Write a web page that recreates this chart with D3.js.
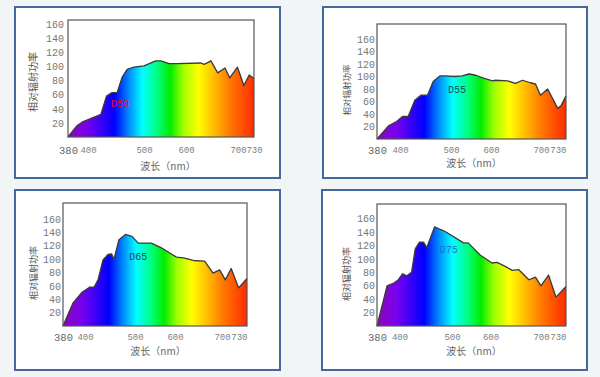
<!DOCTYPE html>
<html>
<head>
<meta charset="utf-8">
<script src="https://cdn.jsdelivr.net/npm/d3@7"></script>
<style>
  body { margin: 0; background: #f1f5f6; }
  svg { display: block; }
</style>
</head>
<body>
<svg id="chart" width="600" height="377"></svg>
<script>
// tick labels
const xTicks = [380, 400, 500, 600, 700, 730];
const yTicks = [20, 40, 60, 80, 100, 120, 140, 160];

// D50
const d50Nm = [380, 389, 394, 423, 433, 443, 452, 461, 470, 482, 500, 528, 540, 560, 579, 629, 635, 648, 661, 675, 684, 699, 711, 721, 730];
const d50Power = [0, 16, 21, 32, 58, 63, 63, 85, 96, 99, 101, 108, 108, 104, 104, 105, 103, 108, 91, 98, 84, 99, 73, 88, 83];

// D55
const d55Nm = [380, 390, 397, 405, 416, 429, 441, 454, 465, 478, 490, 508, 528, 545, 562, 583, 603, 609, 633, 649, 663, 679, 689, 699, 708, 720, 724, 730];
const d55Power = [0, 21, 28, 36, 36, 62, 70, 70, 92, 101, 101, 100, 101, 104, 102, 97, 93, 94, 93, 89, 94, 90, 88, 70, 80, 49, 53, 69];

// D65
const d65Nm = [380, 389, 397, 409, 418, 426, 436, 446, 453, 458, 468, 481, 494, 508, 541, 566, 603, 618, 639, 663, 681, 695, 704, 711, 720, 730];
const d65Power = [0, 34, 50, 58, 58, 69, 99, 107, 108, 100, 129, 137, 134, 124, 124, 117, 103, 102, 98, 97, 79, 84, 69, 86, 57, 71];

// D75
const d75Nm = [380, 389, 395, 399, 406, 414, 423, 430, 438, 446, 452, 467, 478, 487, 530, 542, 573, 603, 613, 629, 643, 656, 676, 689, 700, 709, 718, 730];
const d75Power = [0, 60, 64, 69, 78, 75, 80, 115, 125, 125, 117, 148, 144, 141, 124, 124, 106, 94, 95, 89, 83, 84, 69, 73, 60, 76, 43, 59];

// layout of the four panels (the tick labels in the source are hand placed, so x is piecewise)
const panels = [
  { name: 'D50', nm: d50Nm, power: d50Power,
    frame: [15, 7, 265, 171], plot: [68, 20, 254, 137],
    xRange: [68, 88, 144, 186, 238, 254], yMax: 166,
    xPad: 10, yPad: 4, endAnchor: 'middle',
    label: { at: [457, 42], color: '#e0101a' },
    yTitle: [33, 82, 10], xTitle: [168, 170] },
  { name: 'D55', nm: d55Nm, power: d55Power,
    frame: [323, 7, 264, 171], plot: [377, 24, 566, 139],
    xRange: [377, 400, 451, 491, 541, 566], yMax: 184,
    xPad: 8, yPad: 2, endAnchor: 'end',
    label: { at: [515, 73], color: '#124f5c' },
    yTitle: [347, 90, 8.5], xTitle: [474, 167] },
  { name: 'D65', nm: d65Nm, power: d65Power,
    frame: [15, 190, 265, 180], plot: [63, 203, 247, 326],
    xRange: [63, 85, 135, 175, 222, 247], yMax: 184,
    xPad: 8, yPad: 2, endAnchor: 'end',
    label: { at: [508, 98], color: '#1d4a57' },
    yTitle: [34, 273, 9], xTitle: [158, 355] },
  { name: 'D75', nm: d75Nm, power: d75Power,
    frame: [322, 190, 265, 180], plot: [377, 204, 566, 326],
    xRange: [377, 399.5, 452, 490.5, 541, 566], yMax: 182,
    xPad: 8, yPad: 2, endAnchor: 'end',
    label: { at: [494, 109], color: '#1f6fd6' },
    yTitle: [347, 274, 9], xTitle: [474, 355] }
];

const svg = d3.select('#chart');

const defs = svg.append('defs');
const grad = defs.append('linearGradient')
  .attr('id', 'rainbow')
  .attr('x1', 0).attr('x2', 1).attr('y1', 0).attr('y2', 0);
const stops = [
  [0, '#8c08b8'], [0.1, '#7a00ee'], [0.25, '#0000ff'], [0.33, '#0090ff'],
  [0.4, '#00ffff'], [0.48, '#00ff80'], [0.55, '#00ec00'], [0.62, '#a0ff00'],
  [0.7, '#ffff00'], [0.78, '#ffc000'], [0.86, '#ff8000'], [1, '#ff2a00']
];
grad.selectAll('stop')
  .data(stops)
  .enter().append('stop')
  .attr('offset', d => d[0])
  .attr('stop-color', d => d[1]);

const mono = '"Liberation Mono", "DejaVu Sans Mono", monospace';
const cjk = '"Noto Sans CJK SC", sans-serif';

panels.forEach(p => {
  const [px0, py0, px1, py1] = p.plot;

  // outer frame
  svg.append('rect')
    .attr('x', p.frame[0]).attr('y', p.frame[1])
    .attr('width', p.frame[2]).attr('height', p.frame[3])
    .attr('fill', '#fff')
    .attr('stroke', '#44689d')
    .attr('stroke-width', 2);

  const x = d3.scaleLinear().domain(xTicks).range(p.xRange);
  const y = d3.scaleLinear().domain([0, p.yMax]).range([py1, py0]);

  const data = p.nm.map((d, i) => ({ nm: d, v: p.power[i] }));

  const g = svg.append('g');

  g.append('rect')
    .attr('x', px0).attr('y', py0)
    .attr('width', px1 - px0).attr('height', py1 - py0)
    .attr('fill', '#fff');

  g.append('path')
    .datum(data)
    .attr('fill', 'url(#rainbow)')
    .attr('d', d3.area().x(d => x(d.nm)).y0(py1).y1(d => y(d.v)));

  g.append('path')
    .datum(data)
    .attr('fill', 'none')
    .attr('stroke', '#3a3a3a')
    .attr('stroke-width', 1.3)
    .attr('stroke-linejoin', 'round')
    .attr('d', d3.line().x(d => x(d.nm)).y(d => y(d.v)));

  g.append('rect')
    .attr('x', px0).attr('y', py0)
    .attr('width', px1 - px0).attr('height', py1 - py0)
    .attr('fill', 'none')
    .attr('stroke', '#555')
    .attr('stroke-width', 1.2);

  // x axis
  const xAxis = g.append('g')
    .attr('transform', 'translate(0,' + py1 + ')')
    .call(d3.axisBottom(x).tickValues(xTicks).tickSize(0).tickPadding(p.xPad));
  xAxis.select('.domain').remove();
  xAxis.selectAll('text')
    .attr('font-family', mono)
    .attr('font-size', d => d === 380 ? 10.5 : 9)
    .attr('dy', d => d === 380 ? '0.62em' : '0.71em')
    .attr('fill', d => d === 380 ? '#666' : '#808080')
    .attr('text-anchor', d => d === 730 ? p.endAnchor : 'middle');

  // y axis
  const yAxis = g.append('g')
    .attr('transform', 'translate(' + px0 + ',0)')
    .call(d3.axisLeft(y).tickValues(yTicks).tickSize(0).tickPadding(p.yPad));
  yAxis.select('.domain').remove();
  yAxis.selectAll('text')
    .attr('font-family', mono)
    .attr('font-size', 10)
    .attr('fill', '#777');

  // titles
  g.append('text')
    .attr('transform', 'translate(' + p.yTitle[0] + ',' + p.yTitle[1] + ') rotate(-90)')
    .attr('text-anchor', 'middle')
    .attr('dy', '0.35em')
    .attr('font-family', cjk)
    .attr('font-size', p.yTitle[2])
    .attr('fill', '#555')
    .text('相对辐射功率');

  g.append('text')
    .attr('x', p.xTitle[0])
    .attr('y', p.xTitle[1])
    .attr('text-anchor', 'middle')
    .attr('font-family', cjk)
    .attr('font-size', 10)
    .attr('fill', '#666')
    .text('波长（nm）');

  g.append('text')
    .attr('x', x(p.label.at[0]))
    .attr('y', y(p.label.at[1]))
    .attr('text-anchor', 'middle')
    .attr('font-family', mono)
    .attr('font-size', 10)
    .attr('fill', p.label.color)
    .text(p.name);
});
</script>
</body>
</html>
